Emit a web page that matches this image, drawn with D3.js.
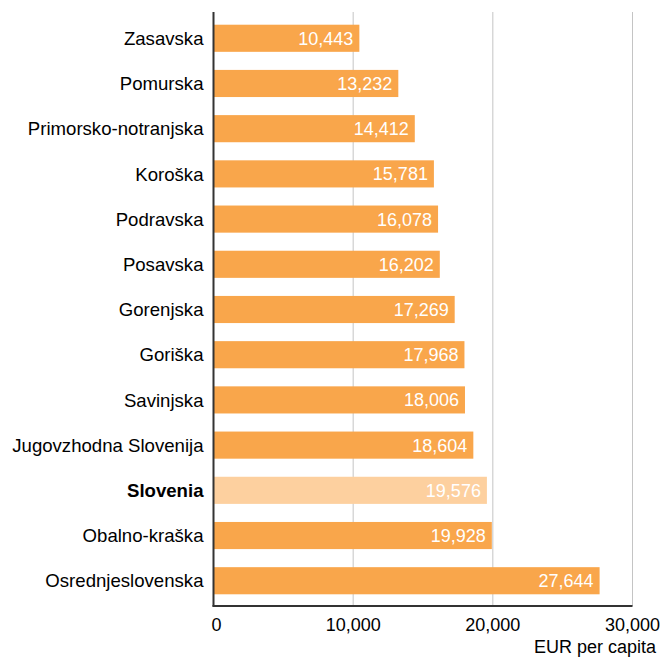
<!DOCTYPE html>
<html>
<head>
<meta charset="utf-8">
<script src="https://cdn.jsdelivr.net/npm/d3@7"></script>
<style>
  html, body { margin: 0; padding: 0; background: #fff; }
  svg { display: block; font-family: "Liberation Sans", Arial, sans-serif; }
</style>
</head>
<body>
<svg id="chart" width="662" height="660"></svg>
<script>
// GDP per capita by statistical region
const regions = ["Zasavska", "Pomurska", "Primorsko-notranjska", "Koroška", "Podravska",
  "Posavska", "Gorenjska", "Goriška", "Savinjska", "Jugovzhodna Slovenija",
  "Slovenia", "Obalno-kraška", "Osrednjeslovenska"];
const values = [10443, 13232, 14412, 15781, 16078, 16202, 17269, 17968, 18006, 18604,
  19576, 19928, 27644];
const xTicks = [0, 10000, 20000, 30000];
const highlight = "Slovenia";
const axisTitle = "EUR per capita";

const svg = d3.select("#chart");
const plotLeft = 213.5, plotRight = 632.5, plotTop = 12, plotBottom = 606;

const x = d3.scaleLinear().domain([0, 30000]).range([plotLeft, plotRight]);
const y = d3.scaleBand().domain(regions).range([plotTop + 0.5, plotBottom + 0.5])
  .paddingInner(0.4).paddingOuter(0.27);
const fmt = d3.format(",");

// gridlines
svg.append("g").selectAll("line").data(xTicks.filter(d => d > 0)).join("line")
  .attr("x1", d => x(d)).attr("x2", d => x(d))
  .attr("y1", plotTop).attr("y2", plotBottom)
  .attr("stroke", "#c4c4c4").attr("stroke-width", 1);

// bars
const rows = regions.map((r, i) => ({ region: r, value: values[i] }));
svg.append("g").selectAll("rect").data(rows).join("rect")
  .attr("x", x(0))
  .attr("y", d => y(d.region))
  .attr("width", d => x(d.value) - x(0))
  .attr("height", y.bandwidth())
  .attr("fill", d => d.region === highlight ? "#fdd09f" : "#f9a64b");

// value labels inside bars
svg.append("g").selectAll("text").data(rows).join("text")
  .attr("x", d => x(d.value) - 6)
  .attr("y", d => y(d.region) + y.bandwidth() / 2)
  .attr("dy", "0.36em")
  .attr("text-anchor", "end")
  .attr("font-size", 18)
  .attr("fill", "#fff")
  .text(d => fmt(d.value));

// category labels
svg.append("g").selectAll("text").data(rows).join("text")
  .attr("x", plotLeft - 10)
  .attr("y", d => y(d.region) + y.bandwidth() / 2)
  .attr("dy", "0.36em")
  .attr("text-anchor", "end")
  .attr("font-size", 18.6)
  .attr("font-weight", d => d.region === highlight ? "bold" : "normal")
  .attr("fill", "#000")
  .text(d => d.region);

// axis lines
svg.append("line").attr("x1", plotLeft).attr("x2", plotLeft).attr("y1", plotTop).attr("y2", plotBottom + 0.5)
  .attr("stroke", "#333").attr("stroke-width", 2);
svg.append("line").attr("x1", plotLeft - 1).attr("x2", plotRight).attr("y1", plotBottom).attr("y2", plotBottom)
  .attr("stroke", "#333").attr("stroke-width", 2);

// x tick labels
svg.append("g").selectAll("text").data(xTicks).join("text")
  .attr("x", d => x(d))
  .attr("y", 631)
  .attr("text-anchor", (d, i) => i === 0 ? "start" : "middle")
  .attr("dx", (d, i) => i === 0 ? -2 : 0)
  .attr("font-size", 18)
  .attr("fill", "#000")
  .text(d => fmt(d));

// axis title
svg.append("text")
  .attr("x", 656).attr("y", 653)
  .attr("text-anchor", "end")
  .attr("font-size", 18)
  .attr("fill", "#000")
  .text(axisTitle);
</script>
</body>
</html>
